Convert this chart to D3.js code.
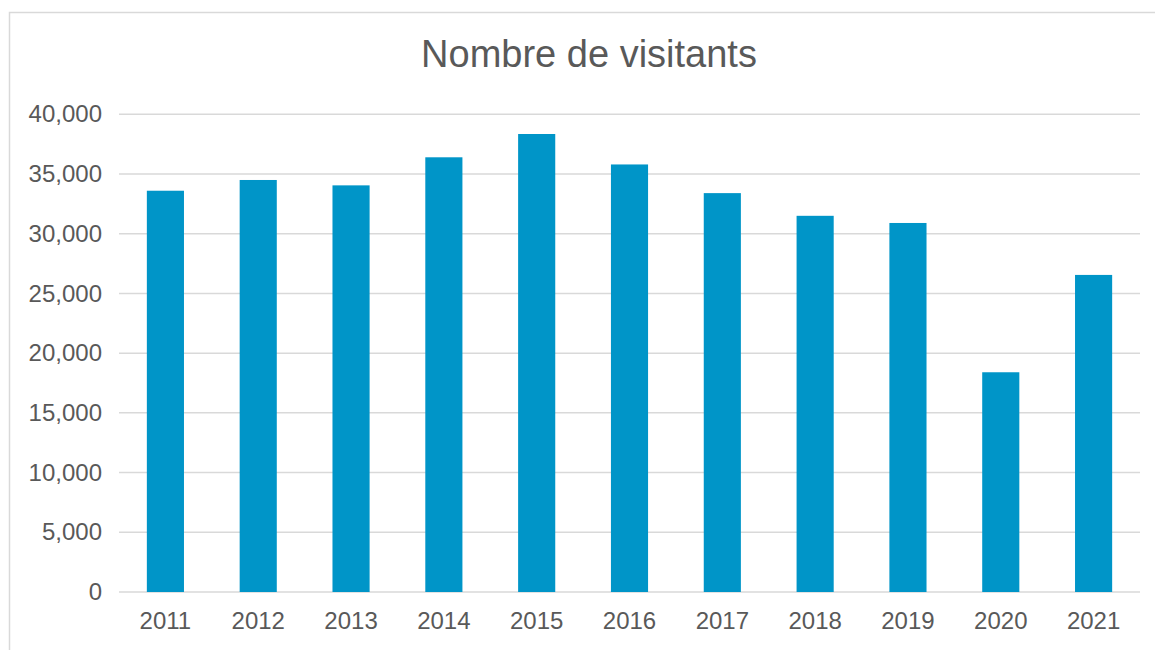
<!DOCTYPE html>
<html>
<head>
<meta charset="utf-8">
<script src="https://cdn.jsdelivr.net/npm/d3@7"></script>
<style>
    body { margin: 0; background: #fff; }
    svg { display: block; font-family: "Liberation Sans", Arial, sans-serif; }
</style>
</head>
<body>
<svg id="chart" width="1155" height="650"></svg>
<script>
const years = ['2011', '2012', '2013', '2014', '2015', '2016', '2017', '2018', '2019', '2020', '2021'];
const visitors = [33600, 34500, 34050, 36400, 38350, 35800, 33400, 31500, 30900, 18400, 26550];
const yTicks = [0, 5000, 10000, 15000, 20000, 25000, 30000, 35000, 40000];
const title = 'Nombre de visitants';

const svg = d3.select('#chart');
const margin = { top: 114.3, right: 15, bottom: 58, left: 119 };
const width = 1155, height = 650;

// chart frame (runs off the right and bottom edges)
svg.append('rect')
    .attr('x', 9.5).attr('y', 12.5)
    .attr('width', 1160).attr('height', 660)
    .attr('fill', '#fff')
    .attr('stroke', '#d9d9d9')
    .attr('stroke-width', 1.5);

const x = d3.scaleBand()
    .domain(years)
    .range([margin.left, width - margin.right])
    .paddingInner(0.6)
    .paddingOuter(0.3);

const y = d3.scaleLinear()
    .domain([0, 40000])
    .range([height - margin.bottom, margin.top]);

// gridlines
svg.append('g')
    .selectAll('line')
    .data(yTicks)
    .enter()
    .append('line')
    .attr('x1', margin.left)
    .attr('x2', width - margin.right)
    .attr('y1', d => y(d))
    .attr('y2', d => y(d))
    .style('stroke', '#d9d9d9')
    .style('stroke-width', 1.5);

// y axis labels
const yAxis = svg.append('g')
    .attr('transform', `translate(${margin.left},0)`)
    .call(d3.axisLeft(y).tickValues(yTicks).tickSize(0).tickPadding(17).tickFormat(d3.format(',')));
yAxis.select('.domain').remove();
yAxis.selectAll('text')
    .attr('font-size', 24)
    .attr('font-family', '"Liberation Sans", Arial, sans-serif')
    .attr('fill', '#595959');

// x axis labels
const xAxis = svg.append('g')
    .attr('transform', `translate(0,${height - margin.bottom})`)
    .call(d3.axisBottom(x).tickSize(0).tickPadding(20));
xAxis.select('.domain').remove();
xAxis.selectAll('text')
    .attr('font-size', 24)
    .attr('font-family', '"Liberation Sans", Arial, sans-serif')
    .attr('fill', '#595959');

// bars
svg.append('g')
    .selectAll('rect')
    .data(years)
    .enter()
    .append('rect')
    .attr('x', d => x(d))
    .attr('width', x.bandwidth())
    .attr('y', (d, i) => y(visitors[i]))
    .attr('height', (d, i) => y(0) - y(visitors[i]))
    .attr('fill', '#0095c8');

// title
svg.append('text')
    .attr('x', 589)
    .attr('y', 66.5)
    .attr('text-anchor', 'middle')
    .attr('font-size', 38)
    .attr('fill', '#595959')
    .text(title);
</script>
</body>
</html>
